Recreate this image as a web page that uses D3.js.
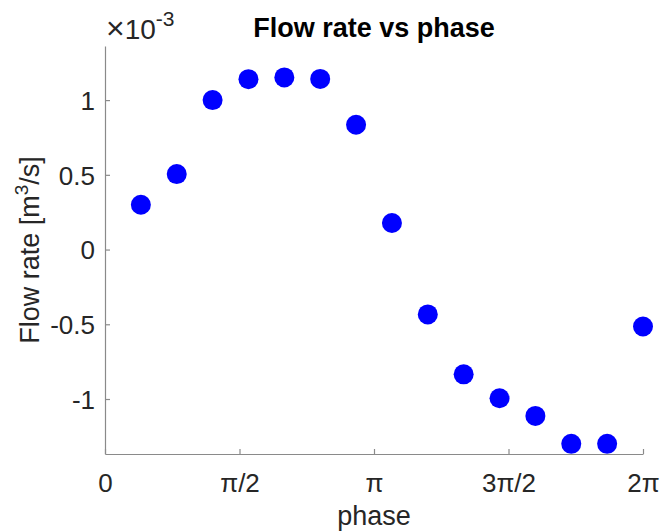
<!DOCTYPE html>
<html>
<head>
<meta charset="utf-8">
<script src="https://cdn.jsdelivr.net/npm/d3@7"></script>
<style>
  body { margin: 0; background: #fff; }
  text { font-family: "Liberation Sans", Arial, Helvetica, sans-serif; }
</style>
</head>
<body>
<div id="container"></div>
<script>
// flow rate (x 1e-3 m^3/s) at 15 phase steps of 2*pi/15
var phaseStep = [1, 2, 3, 4, 5, 6, 7, 8, 9, 10, 11, 12, 13, 14, 15];
var flowRate = [0.30, 0.505, 1.0, 1.14, 1.152, 1.142, 0.835, 0.178, -0.434, -0.835, -0.995, -1.113, -1.30, -1.30, -0.515];
var xTicks = [0, Math.PI / 2, Math.PI, 3 * Math.PI / 2, 2 * Math.PI];
var xTickLabels = ["0", "\u03c0/2", "\u03c0", "3\u03c0/2", "2\u03c0"];
var yTicks = [-1, -0.5, 0, 0.5, 1];
var yTickLabels = ["-1", "-0.5", "0", "0.5", "1"];

var width = 660;
var height = 531;
var leftMargin = 105;
var rightMargin = 17;
var topMargin = 46;
var bottomMargin = 77;

var svg = d3.select("#container")
  .append("svg")
  .attr("width", width)
  .attr("height", height);

var xScale = d3.scaleLinear()
  .domain([0, 2 * Math.PI])
  .range([leftMargin, width - rightMargin]);
var yScale = d3.scaleLinear()
  .domain([-1.368, 1.362])
  .range([height - bottomMargin, topMargin]);

// axes, matlab style: ticks pointing inward
var xAxis = d3.axisBottom(xScale)
  .tickValues(xTicks)
  .tickFormat(function(d, i) { return xTickLabels[i]; })
  .tickSizeInner(-5)
  .tickSizeOuter(0)
  .tickPadding(14);
var yAxis = d3.axisLeft(yScale)
  .tickValues(yTicks)
  .tickFormat(function(d, i) { return yTickLabels[i]; })
  .tickSizeInner(-5)
  .tickSizeOuter(0)
  .tickPadding(10);

var gx = svg.append("g")
  .attr("transform", "translate(0," + (height - bottomMargin) + ")")
  .call(xAxis);
var gy = svg.append("g")
  .attr("transform", "translate(" + leftMargin + ",0)")
  .call(yAxis);

[gx, gy].forEach(function(g) {
  g.select(".domain").attr("stroke", "#8a8a8a").attr("stroke-width", 1.2);
  g.selectAll(".tick line").attr("stroke", "#8a8a8a").attr("stroke-width", 1.2);
  g.selectAll(".tick text")
    .attr("fill", "#262626")
    .style("font-size", "26px")
    .style("font-family", "'Liberation Sans', Arial, sans-serif");
});
gx.selectAll(".tick text").attr("dy", "0.92em");
gy.selectAll(".tick text").attr("dy", "0.36em");

// points
svg.selectAll("circle")
  .data(phaseStep)
  .enter()
  .append("circle")
  .attr("cx", function(d) { return xScale(d * 2 * Math.PI / 15); })
  .attr("cy", function(d, i) { return yScale(flowRate[i]); })
  .attr("r", 10)
  .style("fill", "#0000ff");

// exponent label
var expo = svg.append("text")
  .attr("x", 106)
  .attr("y", 39)
  .attr("fill", "#262626")
  .style("font-size", "28px");
expo.append("tspan").style("font-size", "32px").style("font-weight", "300").text("\u00d7");
expo.append("tspan").text("10");
expo.append("tspan")
  .attr("dy", -13)
  .style("font-size", "21px")
  .text("-3");

// title
svg.append("text")
  .attr("x", (leftMargin + width - rightMargin) / 2)
  .attr("y", 37)
  .style("text-anchor", "middle")
  .style("font-size", "27px")
  .style("font-weight", "bold")
  .attr("fill", "#000")
  .text("Flow rate vs phase");

// axis labels
svg.append("text")
  .attr("x", (leftMargin + width - rightMargin) / 2)
  .attr("y", 525)
  .style("text-anchor", "middle")
  .style("font-size", "27px")
  .attr("fill", "#262626")
  .text("phase");

var yLabel = svg.append("text")
  .attr("transform", "translate(39," + (topMargin + height - bottomMargin) / 2 + ") rotate(-90)")
  .style("text-anchor", "middle")
  .style("font-size", "27px")
  .attr("fill", "#262626");
yLabel.append("tspan").text("Flow rate [m");
yLabel.append("tspan").attr("dy", -11).style("font-size", "19px").text("3");
yLabel.append("tspan").attr("dy", 11).text("/s]");
</script>
</body>
</html>
